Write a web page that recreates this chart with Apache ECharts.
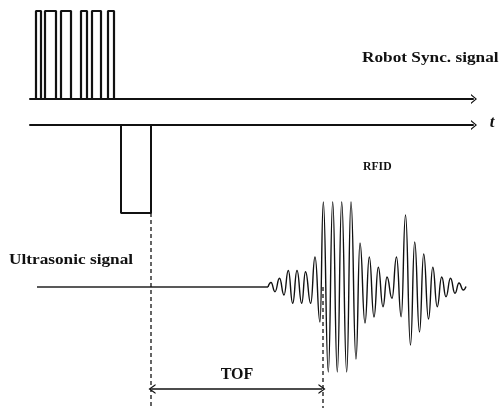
<!DOCTYPE html>
<html><head><meta charset="utf-8">
<script src="https://cdn.jsdelivr.net/npm/echarts@6/dist/echarts.min.js"></script>
<style>html,body{margin:0;padding:0;background:#fff}#chart{width:499px;height:408px}</style>
</head><body><div id="chart"></div>
<script>
// Time axis shared by all three traces
const timeStart = 30, timeEnd = 473;

// Robot sync pulse train: [rise, fall] times
const syncPulses = [[36, 41], [45, 56], [61, 71], [81, 87], [92, 101], [108, 114]];

// RFID trigger pulse (active low): [fall, rise]
const rfidPulse = [121, 151];

// Ultrasonic receiver: quiet lead-in, then echo extrema [time, amplitude]
const usLeadIn = [37, 268];
const usExtrema = [
  [268, 0], [271, 4.5], [275, -4.7], [279.5, 8.7], [284, -8], [288.3, 16.5], [292.7, -16.3],
  [297, 16.5], [301.7, -16.3], [305.5, 15.3], [310.7, -16.3], [315, 30], [320, -35],
  [323.3, 85], [328.3, -85], [332.7, 85], [337.3, -85], [341.7, 85], [346.7, -85],
  [351, 85], [356, -72], [360, 44], [365, -36], [369.3, 30], [374, -30], [378.3, 19.7],
  [383, -19.7], [387, 10], [392, -11.3], [396.5, 30], [401.2, -29.7], [405.5, 72],
  [410.5, -58], [414.7, 45], [419.5, -45], [423.7, 33], [428.5, -32], [432.8, 19.7],
  [437.2, -19.7], [441.7, 10], [446, -9.7], [450.5, 8.7], [455, -6.3], [459, 4],
  [463.3, -3], [466, 0.5]
];

// Time of flight: RFID trigger release to echo arrival
const tofStart = 151, tofEnd = 323;

// Label texts
const syncLabel = 'Robot Sync. signal';
const rfidLabel = 'RFID';
const usLabel = 'Ultrasonic signal';
const tofLabel = 'TOF';
const timeLabel = 't';

// Open chevron used as arrowhead (points up in symbol space)
const chevron = 'path://M0,6 L5,0 L10,6 L8.6,6 L5,1.7 L1.4,6 Z';
const ink = '#111';

function stepTrace(pulses, idle, active) {
  const pts = [[timeStart, idle]];
  pulses.forEach(([a, b]) => {
    pts.push([a, idle], [a, active], [b, active], [b, idle]);
  });
  return pts;
}

const syncData = stepTrace(syncPulses, 0, 1);
const rfidData = stepTrace([rfidPulse], 0, -1);
const leadData = [[usLeadIn[0], 0], [usLeadIn[1], 0]];

const serif = '"Liberation Serif", "DejaVu Serif", serif';
function label(text, x, y, size, opts) {
  opts = opts || {};
  return {
    type: 'text', x: x, y: y, scaleX: opts.scaleX || 1.15, silent: true,
    style: {
      text: text, x: 0, y: 0, fill: ink,
      font: (opts.italic ? 'italic ' : '') + 'bold ' + size + 'px ' + serif,
      textAlign: opts.align || 'left', textVerticalAlign: 'middle'
    }
  };
}

const hiddenY = { show: false };
const chart = echarts.init(document.getElementById('chart'));
chart.setOption({
  animation: false,
  backgroundColor: '#fff',
  grid: [
    { left: timeStart, right: 499 - timeEnd, top: 11, height: 88 },
    { left: timeStart, right: 499 - timeEnd, top: 125, height: 88 },
    { left: timeStart, right: 499 - timeEnd, top: 197, bottom: 0 }
  ],
  xAxis: [0, 1, 2].map(i => ({
    type: 'value', gridIndex: i, min: timeStart, max: timeEnd,
    position: i === 1 ? 'top' : 'bottom',
    axisLine: {
      show: i < 2, onZero: false,
      symbol: ['none', chevron], symbolSize: [10, 7], symbolOffset: [0, 1],
      lineStyle: { color: ink, width: 2 }
    },
    axisTick: { show: false }, axisLabel: { show: false }, splitLine: { show: false }
  })),
  yAxis: [
    Object.assign({ type: 'value', gridIndex: 0, min: 0, max: 1 }, hiddenY),
    Object.assign({ type: 'value', gridIndex: 1, min: -1, max: 0 }, hiddenY),
    Object.assign({ type: 'value', gridIndex: 2, min: -121, max: 90 }, hiddenY)
  ],
  series: [
    {
      name: 'sync', type: 'line', xAxisIndex: 0, yAxisIndex: 0, data: syncData,
      symbol: 'none', lineStyle: { color: ink, width: 2.2 }
    },
    {
      name: 'rfid', type: 'line', xAxisIndex: 1, yAxisIndex: 1, data: rfidData,
      symbol: 'none', lineStyle: { color: ink, width: 2 }
    },
    {
      name: 'lead', type: 'line', xAxisIndex: 2, yAxisIndex: 2, data: leadData,
      symbol: 'none', lineStyle: { color: '#222', width: 1.3 }
    },
    {
      name: 'echo', type: 'line', xAxisIndex: 2, yAxisIndex: 2, data: usExtrema,
      symbol: 'none', smooth: 0.5, smoothMonotone: 'x',
      lineStyle: { color: '#111', width: 1.4 }
    },
    {
      name: 'tofStart', type: 'line', xAxisIndex: 2, yAxisIndex: 2,
      data: [[tofStart, 74], [tofStart, -121]],
      symbol: 'none', lineStyle: { color: ink, width: 1.3, type: [4, 3] }
    },
    {
      name: 'tofEnd', type: 'line', xAxisIndex: 2, yAxisIndex: 2,
      data: [[tofEnd, 0], [tofEnd, -121]],
      symbol: 'none', lineStyle: { color: ink, width: 1.3, type: [4, 3] },
      markLine: {
        silent: true, symbol: [chevron, chevron], symbolSize: [10, 7],
        lineStyle: { color: ink, width: 1.6, type: 'solid' },
        label: {
          show: true, position: 'middle', formatter: tofLabel, distance: 6,
          color: ink, fontFamily: serif, fontWeight: 'bold', fontSize: 16
        },
        data: [[{ coord: [tofStart + 1, -102] }, { coord: [tofEnd - 1, -102] }]]
      }
    }
  ],
  graphic: [
    label(syncLabel, 362, 58, 15),
    label(rfidLabel, 363, 167, 13, { scaleX: 0.9 }),
    label(usLabel, 9, 260, 15),
    label(timeLabel, 492, 123, 17, { italic: true, align: 'center', scaleX: 1 })
  ]
});
</script>
</body></html>
